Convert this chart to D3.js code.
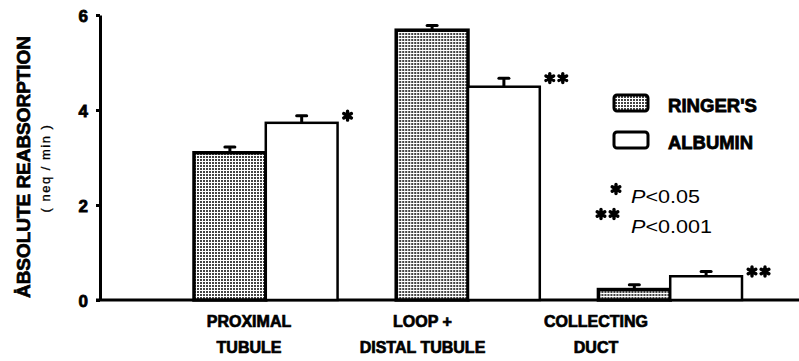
<!DOCTYPE html>
<html>
<head>
<meta charset="utf-8">
<script src="https://cdn.jsdelivr.net/npm/d3@7"></script>
<style>
  html, body { margin: 0; padding: 0; background: #fff; }
  svg { display: block; }
</style>
</head>
<body>
<svg id="chart" width="799" height="361"></svg>
<script>
// Segment categories and the two infusion groups
const segments = ["PROXIMAL TUBULE", "LOOP + DISTAL TUBULE", "COLLECTING DUCT"];
const segmentLines = [["PROXIMAL", "TUBULE"], ["LOOP +", "DISTAL TUBULE"], ["COLLECTING", "DUCT"]];
const groups = ["RINGER'S", "ALBUMIN"];
// Mean absolute reabsorption (neq/min) and SEM
const ringersValues = [3.1, 5.68, 0.22];
const ringersErrors = [0.12, 0.1, 0.1];
const albuminValues = [3.73, 4.49, 0.5];
const albuminErrors = [0.15, 0.18, 0.1];
const significance = [1, 2, 2];   // number of asterisks
const yTicks = [0, 2, 4, 6];

const svg = d3.select("#chart");
const defs = svg.append("defs");
const FONT = "Liberation Sans, Arial, sans-serif";

// Stippled fill for the Ringer's bars
const pat = defs.append("pattern")
  .attr("id", "stipple").attr("patternUnits", "userSpaceOnUse")
  .attr("width", 3).attr("height", 3);
pat.append("rect").attr("width", 3).attr("height", 3).attr("fill", "#fff");
pat.append("rect").attr("x", 0).attr("y", 0).attr("width", 2).attr("height", 2).attr("fill", "#444");

// Heavy blob-like asterisk
const star = d3.symbol().type(d3.symbolAsterisk).size(55);
function drawStars(g, n, cx, cy) {
  for (let k = 0; k < n; k++) {
    g.append("path").attr("d", star())
      .attr("transform", `translate(${cx + k * 13},${cy})`)
      .attr("fill", "none").attr("stroke", "#000")
      .attr("stroke-width", 3.4).attr("stroke-linecap", "round");
    g.append("circle").attr("cx", cx + k * 13).attr("cy", cy).attr("r", 2.6).attr("fill", "#000");
  }
}

const axisX = 100;
const y = d3.scaleLinear().domain([0, 6]).range([300, 15]);
const x = d3.scaleBand().domain(segments).range([194, 742]).paddingInner(0.29).paddingOuter(0);
const xs = d3.scaleBand().domain(groups).range([0, x.bandwidth()]);
const labelX = d3.scalePoint().domain(segments).range([249, 596]);

// Y axis
const yAxis = svg.append("g").attr("transform", `translate(${axisX},0)`)
  .call(d3.axisLeft(y).tickValues(yTicks).tickSize(4).tickSizeOuter(0).tickPadding(8).tickFormat(d3.format("d")));
yAxis.select(".domain").attr("stroke", "#000").attr("stroke-width", 3);
yAxis.selectAll(".tick line").attr("stroke", "#000").attr("stroke-width", 3);
yAxis.selectAll(".tick text")
  .attr("font-family", FONT).attr("dy", "0.36em")
  .attr("font-weight", "bold").attr("font-size", 17).attr("fill", "#000")
  .attr("stroke", "#000").attr("stroke-width", 0.8);

// Baseline
svg.append("line").attr("x1", axisX - 4).attr("x2", 799)
  .attr("y1", y(0)).attr("y2", y(0)).attr("stroke", "#000").attr("stroke-width", 3);

// Bars
const rows = segments.map((s, i) => ({
  seg: s,
  bars: [
    { g: groups[0], v: ringersValues[i], e: ringersErrors[i] },
    { g: groups[1], v: albuminValues[i], e: albuminErrors[i] }
  ],
  sig: significance[i]
}));

const segG = svg.selectAll(".seg").data(rows).join("g")
  .attr("class", "seg").attr("transform", d => `translate(${x(d.seg)},0)`);

const barG = segG.selectAll(".bar").data(d => d.bars).join("g").attr("class", "bar");

// error bars
barG.append("line")
  .attr("x1", d => xs(d.g) + xs.bandwidth() / 2).attr("x2", d => xs(d.g) + xs.bandwidth() / 2)
  .attr("y1", d => y(d.v)).attr("y2", d => y(d.v + d.e))
  .attr("stroke", "#000").attr("stroke-width", 3);
barG.append("line")
  .attr("x1", d => xs(d.g) + xs.bandwidth() / 2 - 5).attr("x2", d => xs(d.g) + xs.bandwidth() / 2 + 5)
  .attr("y1", d => y(d.v + d.e)).attr("y2", d => y(d.v + d.e))
  .attr("stroke", "#000").attr("stroke-width", 3).attr("stroke-linecap", "round");

barG.append("rect")
  .attr("x", d => xs(d.g)).attr("width", xs.bandwidth())
  .attr("y", d => y(d.v)).attr("height", d => y(0) - y(d.v))
  .attr("fill", d => d.g === groups[0] ? "url(#stipple)" : "#fff")
  .attr("stroke", "#000").attr("stroke-width", d => d.g === groups[0] ? 3.5 : 2.5);

// significance markers beside the albumin bars
segG.each(function(d) {
  const b = d.bars[1];
  drawStars(d3.select(this), d.sig, x.bandwidth() + 10, y(b.v + b.e));
});

// Category labels
segments.forEach((s, i) => {
  segmentLines[i].forEach((line, j) => {
    svg.append("text")
      .attr("x", labelX(s)).attr("y", 327 + j * 26)
      .attr("text-anchor", "middle")
      .attr("font-family", FONT).attr("font-weight", "bold").attr("font-size", 16)
      .attr("stroke", "#000").attr("stroke-width", 0.7)
      .text(line);
  });
});

// Y axis title (dot over the A marks a rate)
svg.append("text")
  .attr("transform", "translate(30,167) rotate(-90)")
  .attr("text-anchor", "middle")
  .attr("font-family", FONT)
  .attr("font-weight", "bold").attr("font-size", 18)
  .attr("stroke", "#000").attr("stroke-width", 0.7)
  .attr("textLength", 262).attr("lengthAdjust", "spacingAndGlyphs")
  .text("\u0226BSOLUTE  REABSORPTION");
svg.append("text")
  .attr("transform", "translate(50,168) rotate(-90)")
  .attr("text-anchor", "middle")
  .attr("font-family", FONT)
  .attr("font-size", 13).attr("letter-spacing", 1.5)
  .attr("stroke", "#000").attr("stroke-width", 0.3)
  .text("( neq / min )");

// Legend
const legend = svg.append("g");
const legendLen = [89, 85];
groups.forEach((g, i) => {
  const ly = 95 + i * 37;
  legend.append("rect").attr("x", 614).attr("y", ly).attr("width", 34).attr("height", 16)
    .attr("rx", 3)
    .attr("fill", i === 0 ? "url(#stipple)" : "#fff")
    .attr("stroke", "#000").attr("stroke-width", 3);
  legend.append("text").attr("x", 668).attr("y", ly + 17)
    .attr("font-family", FONT)
    .attr("font-weight", "bold").attr("font-size", 19)
    .attr("stroke", "#000").attr("stroke-width", 0.8)
    .attr("textLength", legendLen[i]).attr("lengthAdjust", "spacingAndGlyphs")
    .text(g);
});

// Significance key
const keyLevels = [[1, "0.05", 69, 616, 189], [2, "0.001", 81, 601, 214]];
keyLevels.forEach((k, i) => {
  const ky = 203 + i * 30;
  drawStars(legend, k[0], k[3], k[4]);
  const t = legend.append("text").attr("x", 631).attr("y", ky)
    .attr("font-family", FONT).attr("font-size", 18)
    .attr("textLength", k[2]).attr("lengthAdjust", "spacingAndGlyphs");
  t.append("tspan").attr("font-style", "italic").text("P");
  t.append("tspan").text("<" + k[1]);
});
</script>
</body>
</html>
